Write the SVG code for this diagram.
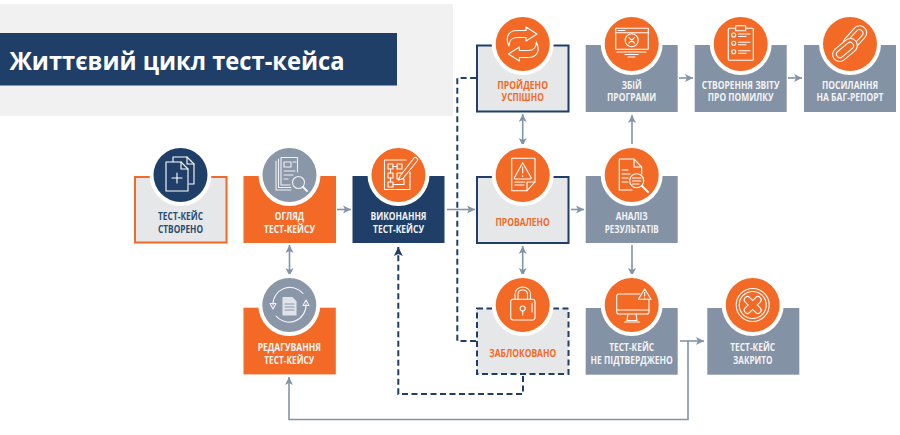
<svg xmlns="http://www.w3.org/2000/svg" width="900" height="435" viewBox="0 0 900 435">
<style>
text{font-family:"Open Sans","Liberation Sans",sans-serif;font-weight:700;font-size:10px;text-anchor:middle;lengthAdjust:spacingAndGlyphs}
.w{fill:#f4f5f7}.n{fill:#2b4a72}.o{fill:#f26a25}
.c{fill:none;stroke:#8393a8;stroke-width:1.6}
.d{fill:none;stroke:#1f3f68;stroke-width:2;stroke-dasharray:6 3.5}
.ring{fill:#fff}
.ic{fill:none;stroke:#fff;stroke-width:1.1;stroke-linecap:round;stroke-linejoin:round}
.ig{fill:none;stroke:#f1f2f4;stroke-width:1.1;stroke-linecap:round;stroke-linejoin:round}
</style>
<defs>
<marker id="a" markerUnits="userSpaceOnUse" markerWidth="9" markerHeight="9" refX="8" refY="4.5" orient="auto-start-reverse"><path d="M0,0.5L8,4.5L0,8.5L2,4.5Z" fill="#8393a8"/></marker>
<marker id="b" markerUnits="userSpaceOnUse" markerWidth="10" markerHeight="10" refX="9" refY="5" orient="auto"><path d="M0,0.5L9,5L0,9.5L2,5Z" fill="#1f3f68"/></marker>
</defs>
<rect width="453" height="112" y="4" fill="#f1f1f1"/>
<g id="title"><rect y="33" width="397" height="52.500" fill="#1f3f68"/>
<text x="177" y="70" style="font-size:25px" fill="#fff" textLength="335" lengthAdjust="spacingAndGlyphs">Життєвий цикл тест-кейса</text></g>

<g id="connectors">
<path class="c" d="M337,209.500H351" marker-end="url(#a)"/>
<path class="c" d="M447,209.500H475" marker-end="url(#a)"/>
<path class="c" d="M571,209.500H584" marker-end="url(#a)"/>
<path class="c" d="M679,78H693" marker-end="url(#a)"/>
<path class="c" d="M788,78H802" marker-end="url(#a)"/>
<path class="c" d="M289.500,245V276" marker-start="url(#a)" marker-end="url(#a)"/>
<path class="c" d="M522.700,114V146" marker-start="url(#a)" marker-end="url(#a)"/>
<path class="c" d="M522.700,246V276" marker-start="url(#a)" marker-end="url(#a)"/>
<path class="c" d="M632,146V115" marker-end="url(#a)"/>
<path class="c" d="M632,245V276" marker-end="url(#a)"/>
<path class="c" d="M680,341H704" marker-end="url(#a)"/>
<path class="c" d="M688,341V419.500H289V377" marker-end="url(#a)"/>
<path class="d" d="M523,376V394H398.300V247" marker-end="url(#b)"/>
<path class="d" d="M476,341H457.300V78H476"/>
</g>

<g id="n1"><rect x="135" y="177" width="91.500" height="65.500" fill="#e6e7e9" stroke="#f26a25" stroke-width="2"/><circle class="ring" cx="180.500" cy="175" r="31"/><circle cx="180.500" cy="175" r="27" fill="#1f3f68"/>
<g class="ic"><path d="M173,162V157H187L194,164V184H189"/><path d="M187,157V164H194"/><path d="M166,162H181L188,169V191H166Z" fill="#1f3f68"/><path d="M181,162V169H188"/><path d="M177,173V183M172,178H182"/></g>
<text class="n" x="180.500" y="220" textLength="45" lengthAdjust="spacingAndGlyphs">ТЕСТ-КЕЙС</text><text class="n" x="180.500" y="232.700" textLength="45" lengthAdjust="spacingAndGlyphs">СТВОРЕНО</text></g>

<g id="n2"><rect x="243.500" y="176" width="92.500" height="67" fill="#f26a25"/><circle class="ring" cx="289.500" cy="175" r="31"/><circle cx="289.500" cy="175" r="27" fill="#8a97a8"/>
<g class="ig"><path d="M276,161V190H291M278.500,159V187.500H291"/><path d="M281,157.500H297.500V172M281,157.500V185H290"/><path d="M284,162H291V167H284ZM293,162H296M284,171H295M284,175H293M284,179H288"/><circle cx="298.500" cy="182.500" r="6" fill="#8a97a8"/><path d="M303,187L307,191" stroke-width="2"/></g>
<text class="w" x="289.500" y="220" textLength="29.300" lengthAdjust="spacingAndGlyphs">ОГЛЯД</text><text class="w" x="289.500" y="232.700" textLength="51" lengthAdjust="spacingAndGlyphs">ТЕСТ-КЕЙСУ</text></g>

<g id="n3"><rect x="352.500" y="176" width="92" height="67" fill="#1f3f68"/><circle class="ring" cx="398.500" cy="175" r="31"/><circle cx="398.500" cy="175" r="27" fill="#f26a25"/>
<g class="ic"><path d="M410,172V189.500H384.500V160H406"/><path d="M388,164H393V169H388ZM397,164H402V169H397ZM388,173H393V178H388ZM388,182H393V187H388ZM397,173H403V179H397Z"/><path d="M393,166.500H397M390.500,169V173M390.500,178V182M393,184.500H404V179"/><path d="M400,176L414,158C415.500,156.500 418.500,158.500 417.500,160.500L403,178.500L398.500,180Z" fill="#f26a25"/></g>
<text class="w" x="398.500" y="220" textLength="56" lengthAdjust="spacingAndGlyphs">ВИКОНАННЯ</text><text class="w" x="398.500" y="232.700" textLength="51" lengthAdjust="spacingAndGlyphs">ТЕСТ-КЕЙСУ</text></g>

<g id="n4"><rect x="477" y="45.500" width="91.500" height="66" fill="#e6e7e9" stroke="#1f3f68" stroke-width="2"/><circle class="ring" cx="522.700" cy="44" r="31"/><circle cx="522.700" cy="44" r="27" fill="#f26a25"/>
<g class="ic"><path d="M526,27L537,34L526,41V37.500H517C512,37.500 509,41 509,46C505,38 508,30.500 517,30.500H526Z"/><path d="M519.400,61L508.400,54L519.400,47V50.500H528.400C533.400,50.500 536.400,47 536.400,42C540.400,50 537.400,57.500 528.400,57.500H519.400Z"/></g>
<text class="o" x="522.700" y="88.700" textLength="50.700" lengthAdjust="spacingAndGlyphs">ПРОЙДЕНО</text><text class="o" x="522.700" y="101.300" textLength="42.300" lengthAdjust="spacingAndGlyphs">УСПІШНО</text></g>

<g id="n5"><rect x="585.700" y="45" width="92" height="67" fill="#8492a5"/><circle class="ring" cx="631.700" cy="44" r="31"/><circle cx="631.700" cy="44" r="27" fill="#f26a25"/>
<g class="ic"><rect x="615.700" y="28.300" width="32.600" height="21"/><path d="M615.700,32.700H648.300M618,30.500H625"/><circle cx="631.700" cy="40.300" r="6.500"/><path d="M629,37.600L634.400,43M634.400,37.600L629,43M617,52H646M625,54.500H638M628,57H635"/></g>
<text class="w" x="631.700" y="88.700" textLength="20" lengthAdjust="spacingAndGlyphs">ЗБІЙ</text><text class="w" x="631.700" y="101.300" textLength="49.300" lengthAdjust="spacingAndGlyphs">ПРОГРАМИ</text></g>

<g id="n6"><rect x="694.700" y="45" width="92" height="67" fill="#8492a5"/><circle class="ring" cx="740.700" cy="44" r="31"/><circle cx="740.700" cy="44" r="27" fill="#f26a25"/>
<g class="ic"><rect x="728.300" y="28.300" width="25" height="32" rx="1"/><rect x="735.700" y="25.700" width="10" height="5" fill="#f26a25"/><circle cx="733.700" cy="35" r="2"/><circle cx="733.700" cy="43.300" r="2"/><circle cx="733.700" cy="51.700" r="2"/><path d="M738.500,34H750M738.500,36.500H746M738.500,42.300H750M738.500,44.800H746M738.500,50.700H750M738.500,53.200H746"/></g>
<text class="w" x="740.700" y="88.700" textLength="77.700" lengthAdjust="spacingAndGlyphs">СТВОРЕННЯ ЗВІТУ</text><text class="w" x="740.700" y="101.300" textLength="65.700" lengthAdjust="spacingAndGlyphs">ПРО ПОМИЛКУ</text></g>

<g id="n7"><rect x="804" y="45" width="92" height="67" fill="#8492a5"/><circle class="ring" cx="850" cy="44" r="31"/><circle cx="850" cy="44" r="27" fill="#f26a25"/>
<g class="ic"><g transform="rotate(-48 855 38)"><rect x="841" y="31" width="28" height="14" rx="7"/><rect x="845" y="34.500" width="20" height="7" rx="3.500"/></g><g transform="rotate(-40 845 50)" fill="#f26a25"><rect x="831" y="43" width="28" height="14" rx="7"/><rect x="835" y="46.500" width="20" height="7" rx="3.500"/></g></g>
<text class="w" x="850" y="88.700" textLength="56" lengthAdjust="spacingAndGlyphs">ПОСИЛАННЯ</text><text class="w" x="850" y="101.300" textLength="67" lengthAdjust="spacingAndGlyphs">НА БАГ-РЕПОРТ</text></g>

<g id="n8"><rect x="477" y="177" width="91.500" height="66" fill="#e6e7e9" stroke="#1f3f68" stroke-width="2"/><circle class="ring" cx="522.700" cy="175" r="31"/><circle cx="522.700" cy="175" r="27" fill="#f26a25"/>
<g class="ic"><path d="M511.700,158.300H535V182L527,190.700H511.700Z"/><path d="M535,182H527V190.700"/><path d="M522.700,162.700L531,177.500C531.500,178.300 531,179 530,179H515.400C514.400,179 514,178.300 514.500,177.500Z"/><path d="M522.700,167V173M522.700,175.500V176.500M515,182H525M515,185H524"/></g>
<text class="o" x="522.700" y="225.700" textLength="54.300" lengthAdjust="spacingAndGlyphs">ПРОВАЛЕНО</text></g>

<g id="n9"><rect x="585.700" y="176" width="92" height="67" fill="#8492a5"/><circle class="ring" cx="631.700" cy="175" r="31"/><circle cx="631.700" cy="175" r="27" fill="#f26a25"/>
<g class="ic"><path d="M619.300,159H634L641.700,167V174M634,159V167H641.700M632,190H619.300V159"/><path d="M622,170H628M622,174H630M622,178H628M622,182H628"/><circle cx="636.700" cy="180.700" r="7" fill="#f26a25"/><path d="M632.500,178H641M632.500,181H641M632.500,184H639"/><path d="M642,186L648,192" stroke-width="2"/></g>
<text class="w" x="631.700" y="220" textLength="32" lengthAdjust="spacingAndGlyphs">АНАЛІЗ</text><text class="w" x="631.700" y="232.700" textLength="54" lengthAdjust="spacingAndGlyphs">РЕЗУЛЬТАТІВ</text></g>

<g id="n10"><rect x="477" y="308.500" width="91.500" height="65.500" fill="#e6e7e9" stroke="#1f3f68" stroke-width="2" stroke-dasharray="6 3.500"/><circle class="ring" cx="522.700" cy="305" r="31"/><circle cx="522.700" cy="305" r="27" fill="#f26a25"/>
<g class="ic"><rect x="510.700" y="299.300" width="24.300" height="20.700" rx="2.500"/><path d="M515,299V294.500C515,284.500 530.500,284.500 530.500,294.500V299M518,299V294.500C518,288.500 527.500,288.500 527.500,294.500V299"/><circle cx="522.700" cy="308.500" r="2.500"/><path d="M522.700,311V315M532,303V312"/></g>
<text class="o" x="522.700" y="357" textLength="67" lengthAdjust="spacingAndGlyphs">ЗАБЛОКОВАНО</text></g>

<g id="n11"><rect x="585.700" y="308" width="92" height="66.700" fill="#8492a5"/><circle class="ring" cx="631.700" cy="305" r="31"/><circle cx="631.700" cy="305" r="27" fill="#f26a25"/>
<g class="ic"><path d="M640,294H618.700Q616.700,294 616.700,296V312Q616.700,314 618.700,314H647Q649,314 649,312V300"/><path d="M616.700,310H649M628,314L627,320.500H637L636,314M624.500,322H639.500"/><path d="M644.700,289L651,299.300H638.400Z" fill="#f26a25"/><path d="M644.700,292.500V296M644.700,298V298.300"/></g>
<text class="w" x="631.700" y="351.300" textLength="45" lengthAdjust="spacingAndGlyphs">ТЕСТ-КЕЙС</text><text class="w" x="631.700" y="364" textLength="82.300" lengthAdjust="spacingAndGlyphs">НЕ ПІДТВЕРДЖЕНО</text></g>

<g id="n12"><rect x="707.300" y="308" width="92" height="66.700" fill="#8492a5"/><circle class="ring" cx="752.700" cy="305" r="31"/><circle cx="752.700" cy="305" r="27" fill="#f26a25"/>
<g class="ic"><circle cx="752.700" cy="305" r="16.500"/><circle cx="752.700" cy="305" r="13.500"/><path d="M747.500,299.800L757.900,310.200M757.900,299.800L747.500,310.200" stroke-width="7.500"/><path d="M747.500,299.800L757.900,310.200M757.900,299.800L747.500,310.200" stroke="#f26a25" stroke-width="5.300"/></g>
<text class="w" x="752.700" y="351.300" textLength="45" lengthAdjust="spacingAndGlyphs">ТЕСТ-КЕЙС</text><text class="w" x="752.700" y="364" textLength="39.300" lengthAdjust="spacingAndGlyphs">ЗАКРИТО</text></g>

<g id="n13"><rect x="243.500" y="307.700" width="92.300" height="66.700" fill="#f26a25"/><circle class="ring" cx="289.300" cy="305" r="31"/><circle cx="289.300" cy="305" r="27" fill="#8a97a8"/>
<g class="ig"><path d="M273,305A17,17 0 0 1 303,293.500M306,304A17,17 0 0 1 276,316"/><path d="M273,309L270,303.500H276Z"/><path d="M306,300L303,305.500H309Z"/><path d="M283,297.500H292L296,301.500V315H283Z" fill="#dfe3e8" stroke="#dfe3e8"/><path d="M285,304H294M285,307H294M285,310H294" stroke="#8a97a8"/></g>
<text class="w" x="289.300" y="351.300" textLength="63.300" lengthAdjust="spacingAndGlyphs">РЕДАГУВАННЯ</text><text class="w" x="289.300" y="364" textLength="50" lengthAdjust="spacingAndGlyphs">ТЕСТ-КЕЙСУ</text></g>
</svg>
